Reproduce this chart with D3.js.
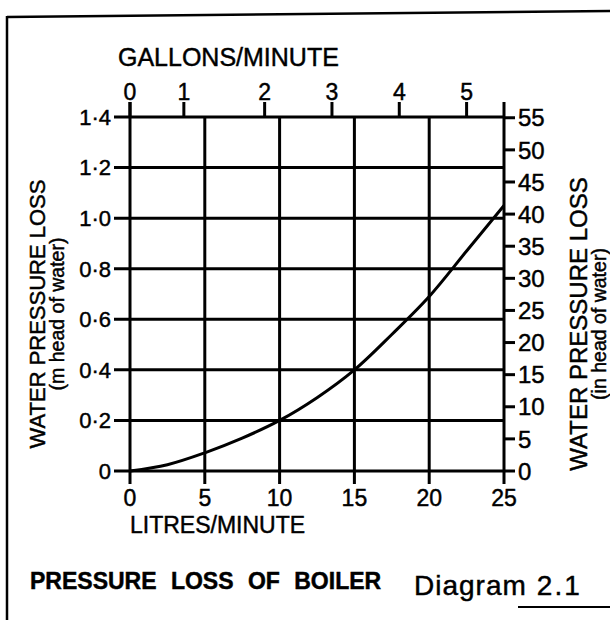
<!DOCTYPE html>
<html><head><meta charset="utf-8">
<script src="https://cdn.jsdelivr.net/npm/d3@7"></script>
<style>
html,body{margin:0;padding:0;background:#fff;}
svg text{font-family:"Liberation Sans",Arial,Helvetica,sans-serif;fill:#000;stroke:#000;stroke-width:0.45px;}
</style></head>
<body>
<svg id="c" width="610" height="620"></svg>
<script>
// ---- data ----
const litres = [0, 2.5, 5, 7.5, 10, 12.5, 15, 17.5, 20, 22.5, 25];
const lossMetres = [0, 0.025, 0.072, 0.13, 0.2, 0.29, 0.4, 0.54, 0.69, 0.87, 1.05];
const litreTicks = [0, 5, 10, 15, 20, 25];
const metreTicks = [0, 0.2, 0.4, 0.6, 0.8, 1.0, 1.2, 1.4];
const metreLabels = ["0", "0·2", "0·4", "0·6", "0·8", "1·0", "1·2", "1·4"];
const inchTicks = [0, 5, 10, 15, 20, 25, 30, 35, 40, 45, 50, 55];
const gallonTicks = [0, 1, 2, 3, 4, 5];
const gallonTickLitres = [0, 3.6, 9.0, 13.5, 18.0, 22.5];
const INCH_TO_M = 0.0254;

const svg = d3.select("#c");
const x = d3.scaleLinear().domain([0, 25]).range([130, 504]);
const y = d3.scaleLinear().domain([0, 1.4]).range([471, 117]);
const SW = 3;

// frame
svg.append("line").attr("x1", 7).attr("y1", 17).attr("x2", 610).attr("y2", 11)
  .attr("stroke", "#000").attr("stroke-width", 2.5);
svg.append("line").attr("x1", 7).attr("y1", 16).attr("x2", 7).attr("y2", 620)
  .attr("stroke", "#000").attr("stroke-width", 2.5);
svg.append("line").attr("x1", 518).attr("y1", 607).attr("x2", 610).attr("y2", 607)
  .attr("stroke", "#000").attr("stroke-width", 2);

const g = svg.append("g");
// horizontal grid with left ticks
g.selectAll("line.h").data(metreTicks).join("line")
  .attr("x1", x(0) - 16).attr("x2", x(25))
  .attr("y1", d => y(d)).attr("y2", d => y(d))
  .attr("stroke", "#000").attr("stroke-width", SW);
// vertical grid with bottom ticks
g.selectAll("line.v").data(litreTicks).join("line")
  .attr("x1", d => x(d)).attr("x2", d => x(d))
  .attr("y1", d => (d === 0 || d === 25) ? y(1.4) - 15 : y(1.4))
  .attr("y2", y(0) + 13)
  .attr("stroke", "#000").attr("stroke-width", SW);
// right axis ticks (inches)
g.selectAll("line.r").data(inchTicks).join("line")
  .attr("x1", x(25)).attr("x2", x(25) + 11)
  .attr("y1", d => y(d * INCH_TO_M)).attr("y2", d => y(d * INCH_TO_M))
  .attr("stroke", "#000").attr("stroke-width", SW);
// top gallon ticks
g.selectAll("line.t").data(gallonTickLitres).join("line")
  .attr("x1", d => x(d)).attr("x2", d => x(d))
  .attr("y1", y(1.4)).attr("y2", y(1.4) - 15)
  .attr("stroke", "#000").attr("stroke-width", SW);

// curve
const line = d3.line().x((d, i) => x(litres[i])).y(d => y(d)).curve(d3.curveCatmullRom.alpha(0.5));
svg.append("path").attr("d", line(lossMetres)).attr("fill", "none")
  .attr("stroke", "#000").attr("stroke-width", 3);

// left labels
svg.selectAll("text.l").data(metreTicks).join("text")
  .attr("x", x(0) - 19).attr("y", d => y(d)).attr("dy", "0.36em")
  .attr("text-anchor", "end").attr("font-size", 22)
  .text((d, i) => metreLabels[i]);
// right labels
svg.selectAll("text.r").data(inchTicks).join("text")
  .attr("x", x(25) + 14).attr("y", d => y(d * INCH_TO_M)).attr("dy", "0.36em")
  .attr("text-anchor", "start").attr("font-size", 24)
  .text(d => d);
// bottom labels
svg.selectAll("text.b").data(litreTicks).join("text")
  .attr("x", d => x(d)).attr("y", 506)
  .attr("text-anchor", "middle").attr("font-size", 23)
  .text(d => d);
// top labels
svg.selectAll("text.t").data(gallonTicks).join("text")
  .attr("x", (d, i) => x(gallonTickLitres[i])).attr("y", 100)
  .attr("text-anchor", "middle").attr("font-size", 23)
  .text(d => d);

svg.append("text").attr("x", 118).attr("y", 66).attr("font-size", 25).text("GALLONS/MINUTE");
svg.append("text").attr("x", 130).attr("y", 533).attr("font-size", 23).text("LITRES/MINUTE");

// axis titles
const lt = svg.append("text").attr("transform", "translate(45,314) rotate(-90)")
  .attr("text-anchor", "middle").attr("font-size", 22);
lt.append("tspan").attr("x", 0).attr("y", 0).text("WATER PRESSURE LOSS");
lt.append("tspan").attr("x", 0).attr("y", 18.5).attr("font-size", 19.5).text("(m head of water)");
const rt = svg.append("text").attr("transform", "translate(587,324) rotate(-90)")
  .attr("text-anchor", "middle").attr("font-size", 24);
rt.append("tspan").attr("x", 0).attr("y", 0).text("WATER PRESSURE LOSS");
rt.append("tspan").attr("x", 0).attr("y", 18.5).attr("font-size", 19.5).text("(in head of water)");

svg.append("text").attr("x", 30).attr("y", 589).attr("font-size", 23)
  .attr("font-weight", "bold").attr("word-spacing", 8).text("PRESSURE LOSS OF BOILER");
const dg = svg.append("text").attr("x", 414).attr("y", 595).attr("font-size", 28);
dg.append("tspan").attr("letter-spacing", 1).text("Diagram");
dg.append("tspan").attr("dx", 10).attr("letter-spacing", 2).text("2.1");
</script>
</body></html>
